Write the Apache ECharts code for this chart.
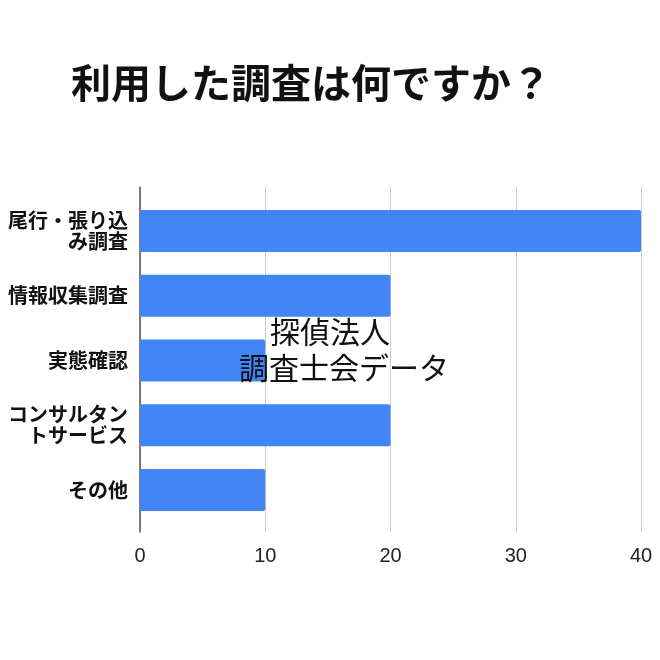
<!DOCTYPE html>
<html>
<head>
<meta charset="utf-8">
<script src="https://cdn.jsdelivr.net/npm/echarts@6/dist/echarts.min.js"></script>
<style>html,body{margin:0;padding:0;background:#fff;}#c{width:660px;height:660px;}</style>
</head>
<body>
<div id="c"></div>
<script>
const titleText = '利用した調査は何ですか？';
const categories = ['尾行・張り込\nみ調査', '情報収集調査', '実態確認', 'コンサルタン\nトサービス', 'その他'];
const values = [40, 20, 10, 20, 10];
const xTicks = [0, 10, 20, 30, 40];
const noteLines = ['探偵法人', '調査士会データ'];

const chart = echarts.init(document.getElementById('c'), null, {renderer: 'canvas'});
const cjk = '"Noto Sans CJK JP", "Noto Sans", sans-serif';
chart.setOption({
  backgroundColor: '#ffffff',
  animation: false,
  title: {
    text: titleText, left: 66, top: 58,
    textStyle: {fontFamily: cjk, fontSize: 40, fontWeight: 'bold', color: '#111'}
  },
  grid: [
    {left: 140, right: 19, top: 187, height: 345},
    {left: 140, right: 19, top: 198.5, height: 324}
  ],
  xAxis: [
    {
      gridIndex: 0, type: 'value', min: xTicks[0], max: xTicks[xTicks.length - 1], interval: 10,
      axisLine: {show: false}, axisTick: {show: false},
      splitLine: {show: true, lineStyle: {color: '#cccccc', width: 1}},
      axisLabel: {margin: 14, fontFamily: '"Liberation Sans", Arial, sans-serif', fontSize: 20, color: '#222'}
    },
    {
      gridIndex: 1, type: 'value', min: 0, max: 40, show: false
    }
  ],
  yAxis: [
    {
      gridIndex: 0, type: 'value', min: 0, max: 1,
      axisLine: {show: true, lineStyle: {color: '#555', width: 1.5}},
      axisTick: {show: false}, axisLabel: {show: false}, splitLine: {show: false}
    },
    {
      gridIndex: 1, type: 'category', data: categories, inverse: true,
      axisLine: {show: false}, axisTick: {show: false},
      axisLabel: {margin: 12, fontFamily: cjk, fontSize: 20, fontWeight: 'bold', color: '#111', lineHeight: 21, align: 'right'}
    }
  ],
  series: [{
    type: 'bar', xAxisIndex: 1, yAxisIndex: 1, data: values,
    barWidth: 42,
    itemStyle: {color: '#4285F4', borderRadius: [0, 2, 2, 0]},
    z: 1
  }],
  graphic: [
    {type: 'text', left: 270, top: 317, z: 100, style: {text: noteLines[0], fontFamily: cjk, fontSize: 30, fill: '#111'}},
    {type: 'text', left: 239, top: 353, z: 100, style: {text: noteLines[1], fontFamily: cjk, fontSize: 30, fill: '#111'}}
  ]
});
</script>
</body>
</html>
